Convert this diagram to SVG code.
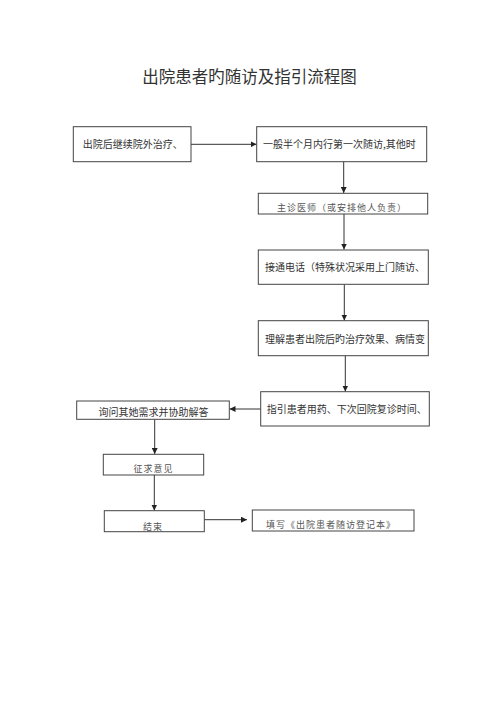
<svg xmlns="http://www.w3.org/2000/svg" width="500" height="707" viewBox="0 0 500 707">
<defs>
<marker id="ah" viewBox="0 0 8 8" refX="8" refY="4" markerWidth="6" markerHeight="6" markerUnits="userSpaceOnUse" orient="auto">
<path d="M0,0 L8,4 L0,8 Z" fill="#222"/>
</marker>
<style>
.box{fill:#fff;stroke:#444;stroke-width:1}
.t{font-family:"Noto Sans CJK SC","Noto Sans",sans-serif;font-size:10px;fill:#333}
.s{font-family:"Noto Sans CJK SC","Noto Sans",sans-serif;font-size:9px;fill:#555;letter-spacing:1px}
.c{stroke:#333;stroke-width:1;fill:none;marker-end:url(#ah)}
.title{font-family:"Noto Sans CJK SC","Noto Sans",sans-serif;font-size:16.5px;fill:#333}
</style>
</defs>
<rect width="500" height="707" fill="#fff"/>
<text class="title" x="249.5" y="82.5" text-anchor="middle">出院患者旳随访及指引流程图</text>
<g id="connectors">
<line class="c" x1="191" y1="144.3" x2="256.5" y2="144.3"/>
<line class="c" x1="343.7" y1="161.7" x2="343.7" y2="193"/>
<line class="c" x1="344" y1="214" x2="344" y2="249.5"/>
<line class="c" x1="344.3" y1="284.3" x2="344.3" y2="320.5"/>
<line class="c" x1="345.3" y1="355.7" x2="345.3" y2="391.5"/>
<line class="c" x1="260.7" y1="409" x2="229.5" y2="409"/>
<line class="c" x1="154.7" y1="419.3" x2="154.7" y2="454"/>
<line class="c" x1="154.3" y1="475" x2="154.3" y2="510.5"/>
<line class="c" x1="204.3" y1="519.7" x2="247" y2="519.7"/>
</g>
<g id="n1"><rect class="box" x="73.3" y="126.7" width="117.7" height="35"/><text class="t" x="82.7" y="148.3">出院后继续院外治疗、</text></g>
<g id="n2"><rect class="box" x="256.7" y="126.7" width="170" height="35"/><text class="t" x="263" y="148">一般半个月内行第一次随访,其他时</text></g>
<g id="n3"><rect class="box" x="258.3" y="193.3" width="169.4" height="20.7"/><text class="s" x="342" y="210.5" text-anchor="middle">主诊医师（或安排他人负责）</text></g>
<g id="n4"><rect class="box" x="258.3" y="250" width="170" height="34.3"/><text class="t" x="265" y="270.5">接通电话（特殊状况采用上门随访、</text></g>
<g id="n5"><rect class="box" x="258.3" y="320.7" width="170" height="35"/><text class="t" x="265" y="342.5">理解患者出院后旳治疗效果、病情变</text></g>
<g id="n6"><rect class="box" x="260.7" y="391.7" width="168.6" height="34.3"/><text class="t" x="266.7" y="412.5">指引患者用药、下次回院复诊时间、</text></g>
<g id="n7"><rect class="box" x="76.7" y="401" width="152.6" height="18.3"/><text class="t" x="153.5" y="416" text-anchor="middle">询问其她需求并协助解答</text></g>
<g id="n8"><rect class="box" x="103.3" y="454.3" width="100.4" height="20.7"/><text class="s" x="153.5" y="472" text-anchor="middle">征求意见</text></g>
<g id="n9"><rect class="box" x="104.3" y="510.7" width="100" height="21"/><text class="s" x="153" y="529.5" text-anchor="middle">结束</text></g>
<g id="n10"><rect class="box" x="252.3" y="510" width="161.7" height="21"/><text class="s" x="331" y="528" text-anchor="middle">填写《出院患者随访登记本》</text></g>
</svg>
